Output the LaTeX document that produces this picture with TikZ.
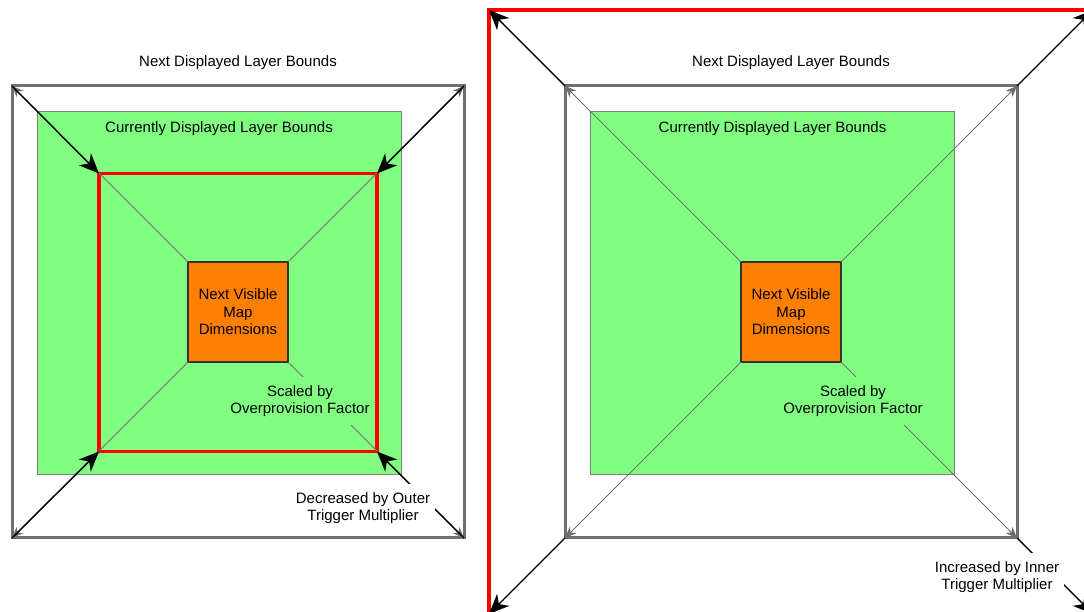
\documentclass[tikz,border=0pt]{standalone}
\usepackage{fontspec}
\setmainfont{Liberation Sans}
\usetikzlibrary{arrows.meta,positioning}
\definecolor{layergreen}{HTML}{80FF80}
\definecolor{maporange}{HTML}{FF8000}
\definecolor{boundgray}{HTML}{6F6F6F}
\tikzset{
     note/.style = {font=\fontsize{15}{17.5}\selectfont, align=center, inner sep=2pt},
     nextlayer/.style = {draw=boundgray, line width=3pt, minimum size=452pt, inner sep=0pt, outer sep=0pt},
     curlayer/.style = {draw=boundgray!90, fill=layergreen, line width=0.9pt, minimum width=364pt, minimum height=363pt, inner sep=0pt, outer sep=0pt},
     trigger/.style = {draw=red, line width=3.2pt, minimum width=#1, minimum height=#1, inner sep=0pt, outer sep=0pt},
     mapbox/.style = {note, draw=black!80, fill=maporange, line width=1.1pt, minimum size=100pt, outer sep=0pt},
     scaleedge/.style = {boundgray, line width=1pt, -{Stealth[length=11pt,width=9pt,inset=3pt]}},
     growedge/.style = {black, line width=1.4pt, -{Stealth[length=20pt,width=17pt,inset=6pt]}},
     cutlabel/.style = {note, inner xsep=5pt, inner ysep=8pt},
    }

\begin{document}
\begin{tikzpicture}[x=1pt,y=1pt]
    \useasboundingbox (0,0) rectangle (1084,612);

    % left: trigger bounds inside the current layer
    \node [nextlayer] (boundL) at (238,300)     {};
    \node [curlayer]  (greenL) at (219,319.5)   {};
    \node [trigger=278pt] (trigL) at (238,299.5) {};
    \node [mapbox]    (mapL)   at (238,300)     {Next Visible\\Map\\Dimensions};
    \node [note] (nextL) [above=14pt of boundL]        {Next Displayed Layer Bounds};
    \node [note] (curL)  [below=8pt of greenL.north]   {Currently Displayed Layer Bounds};

    \foreach \c in {north west,north east,south west,south east}{
        \draw [scaleedge] (mapL.\c) -- (boundL.\c);
        \draw [growedge] (boundL.\c) -- (trigL.\c);
    }
    \node [cutlabel, fill=layergreen] (scaledL) at (300,211) {Scaled by\\Overprovision Factor};
    \node [cutlabel, fill=white] (outerL) at (363,104) {Decreased by Outer\\Trigger Multiplier};

    % right: trigger bounds outside the next layer
    \node [trigger=604pt] (trigR) at (791,300)  {};
    \node [nextlayer] (boundR) at (791,300)     {};
    \node [curlayer]  (greenR) at (772.5,319.5) {};
    \node [mapbox]    (mapR)   at (791,300)     {Next Visible\\Map\\Dimensions};
    \node [note] (nextR) [above=14pt of boundR]        {Next Displayed Layer Bounds};
    \node [note] (curR)  [below=8pt of greenR.north]   {Currently Displayed Layer Bounds};

    \foreach \c in {north west,north east,south west,south east}{
        \draw [scaleedge] (mapR.\c) -- (boundR.\c);
        \draw [growedge] (boundR.\c) -- (trigR.\c);
    }
    \node [cutlabel, fill=layergreen] (scaledR) at (853,211) {Scaled by\\Overprovision Factor};
    \node [cutlabel, fill=white] (innerR) at (997,35) {Increased by Inner\\Trigger Multiplier};
\end{tikzpicture}
\end{document}
